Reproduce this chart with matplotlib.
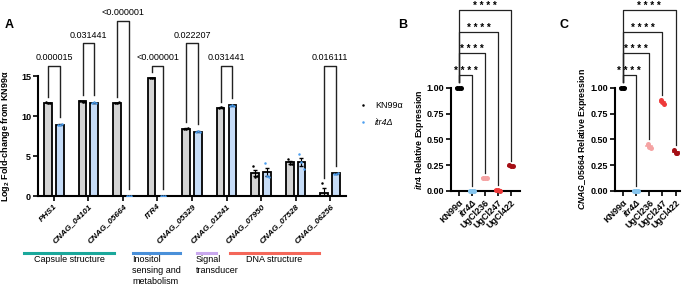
import matplotlib
matplotlib.use('Agg')
import matplotlib.pyplot as plt
import numpy as np

plt.rcParams['font.family'] = ['Liberation Sans', 'DejaVu Sans']
plt.rcParams['mathtext.fontset'] = 'custom'
plt.rcParams['mathtext.rm'] = 'Liberation Sans:bold'
plt.rcParams['mathtext.it'] = 'Liberation Sans:italic:bold'

# ---------------- data: panel A ----------------
genes = ['PHS1', 'CNAG_04101', 'CNAG_05664', 'ITR4', 'CNAG_05329',
         'CNAG_01241', 'CNAG_07950', 'CNAG_07528', 'CNAG_06256']
kn99_reps = [[11.7, 11.6, 11.6], [11.9, 11.8, 11.8], [11.6, 11.6, 11.7],
             [14.7, 14.7, 14.8], [8.4, 8.4, 8.5], [11.0, 11.1, 11.0],
             [3.7, 2.4, 2.5], [4.6, 4.0, 4.0], [1.6, -0.2, -0.2]]
itr4_reps = [[8.9, 8.9, 9.0], [11.6, 11.7, 11.6], [0.0, 0.0, 0.0],
             [0.0, 0.0, 0.0], [8.0, 8.1, 8.0], [11.3, 11.4, 11.3],
             [4.1, 2.5, 2.4], [5.2, 4.2, 3.4], [2.8, 2.8, 2.9]]
p_labels = ['0.000015', '0.031441', '<0.000001', '<0.000001', '0.022207',
            '0.031441', '', '', '0.016111']
p_tops = [16.25, 19.1, 21.9, 16.25, 19.1, 16.25, None, None, 16.25]

func_groups = ['Capsule structure', 'Inositol\nsensing and\nmetabolism',
               'Signal\ntransducer', 'DNA structure']
func_colors = ['#1aa89b', '#4a90d9', '#c9a8ee', '#f4675a']

# ---------------- data: panels B and C ----------------
strains = ['KN99α', 'itr4Δ', 'UgCl236', 'UgCl247', 'UgCl422']
strain_colors = ['#000000', '#86c5ee', '#f5a3a3', '#ee3a3a', '#a50f15']
itr4_expr = [[1.0, 1.0, 1.0], [0.0, 0.0, 0.0], [0.13, 0.125, 0.13],
             [0.01, 0.0, 0.01], [0.25, 0.24, 0.24]]
cnag_expr = [[1.0, 1.0, 1.0], [0.0, 0.0, 0.0], [0.46, 0.42, 0.43],
             [0.88, 0.84, 0.865], [0.40, 0.37, 0.37]]
star_tops = [1.123, 1.333, 1.542, 1.752]

W, H = 685, 285
fig = plt.figure(figsize=(W / 100, H / 100), dpi=100)


def rect(x0, x1, ybot, ytop):
    return [x0 / W, 1 - ybot / H, (x1 - x0) / W, (ybot - ytop) / H]


def style_axes(ax):
    for s in ['top', 'right']:
        ax.spines[s].set_visible(False)
    for s in ['left', 'bottom']:
        ax.spines[s].set_linewidth(1.5)
    ax.tick_params(length=3.5, width=1.2, pad=1.5)


# ---------------- Panel A ----------------
axA = fig.add_axes(rect(38, 346, 196, 8))
style_axes(axA)
x = np.arange(len(genes))
off, bw = 0.17, 0.22
kn_mean = [np.mean(r) for r in kn99_reps]
it_mean = [np.mean(r) for r in itr4_reps]
kn_sem = [np.std(r, ddof=1) / np.sqrt(3) for r in kn99_reps]
it_sem = [np.std(r, ddof=1) / np.sqrt(3) for r in itr4_reps]
axA.bar(x - off, kn_mean, bw, color='#d4d4d4', edgecolor='black', linewidth=1.3, zorder=2)
axA.bar(x + off, it_mean, bw, color='#c6dcf7', edgecolor='black', linewidth=1.3, zorder=2)
axA.errorbar(x - off, kn_mean, yerr=kn_sem, fmt='none', ecolor='black', elinewidth=0.8, capsize=1.5, zorder=3)
axA.errorbar(x + off, it_mean, yerr=it_sem, fmt='none', ecolor='black', elinewidth=0.8, capsize=1.5, zorder=3)
jit = np.array([-0.06, 0.0, 0.06])
for i in range(len(genes)):
    axA.plot(x[i] - off + jit, kn99_reps[i], 'o', color='black', ms=1.8, mew=0, zorder=4)
    axA.plot(x[i] + off + jit, itr4_reps[i], 'o', color='#4d9ff0', ms=1.8, mew=0, zorder=4)
    if p_tops[i] is not None:
        lb = max(kn99_reps[i]) + 0.7
        rb = max(itr4_reps[i]) + 0.9
        axA.plot([x[i] - off, x[i] - off, x[i] + off, x[i] + off],
                 [lb, p_tops[i], p_tops[i], rb], color='#222222', lw=1.0, clip_on=False)
        axA.text(x[i], p_tops[i] + 0.45, p_labels[i], ha='center', va='bottom', fontsize=6.5)
axA.set_xlim(-0.46, 8.46)
axA.set_ylim(0, 23.5)
axA.spines['left'].set_bounds(0, 15)
axA.set_yticks([0, 5, 10, 15])
axA.set_yticklabels(['0', '5', '10', '15'], fontsize=6.5, fontweight='bold')
axA.set_xticks(x)
axA.set_xticklabels(genes, rotation=45, ha='right', rotation_mode='anchor',
                    fontsize=6, fontweight='bold', style='italic')
axA.set_ylabel('Log$_2$ Fold-change from KN99α', fontsize=6.5, fontweight='bold')
axA.yaxis.set_label_coords(-0.085, 7.5 / 23.5)
hk, = axA.plot([], [], 'o', color='black', ms=1.8, mew=0)
hi, = axA.plot([], [], 'o', color='#4d9ff0', ms=1.8, mew=0)
leg = axA.legend([hk, hi], ['KN99α', 'itr4Δ'], loc='upper left', frameon=False,
                 bbox_to_anchor=(350 / W, 1 - 93 / H), bbox_transform=fig.transFigure,
                 fontsize=6.5, handlelength=1.0, handletextpad=0.9, labelspacing=0.9)
leg.get_texts()[1].set_style('italic')

# functional category bars under panel A
seg_px = [(24, 114), (133, 180), (197, 216), (230, 319)]
for (a, b), lab, col in zip(seg_px, func_groups, func_colors):
    fig.add_artist(plt.Line2D([a / W, b / W], [1 - 253 / H, 1 - 253 / H], color=col, lw=2.2))
    if '\n' in lab:
        fig.text((a - 1) / W, 1 - 255 / H, lab, ha='left', va='top', fontsize=6.5, linespacing=1.25)
    else:
        fig.text((a + b) / 2 / W, 1 - 255 / H, lab, ha='center', va='top', fontsize=6.5)


# ---------------- Panels B and C ----------------
def expr_panel(ax, data, ylab, xlim, labx):
    style_axes(ax)
    offs = np.array([-0.13, 0.13, 0.0])
    for i, vals in enumerate(data):
        ax.plot(i + offs, vals, 'o', color=strain_colors[i], ms=3.6, mew=0, zorder=3, clip_on=False)
        m = np.mean(vals)
        ax.plot([i - 0.22, i + 0.22], [m, m], color=strain_colors[i], lw=1.2, zorder=3)
    for i in range(1, 5):
        top = star_tops[i - 1]
        rb = max(data[i]) + 0.045
        ax.plot([0, 0, i, i], [1.06, top, top, rb], color='#222222', lw=0.9, clip_on=False)
        ax.text(i / 2, top + 0.012, '* * * *', ha='center', va='baseline', fontsize=7, fontweight='bold')
    ax.set_xlim(*xlim)
    ax.set_ylim(0, 1.84)
    ax.spines['left'].set_bounds(0, 1)
    ax.set_yticks([0, 0.25, 0.5, 0.75, 1.0])
    ax.set_yticklabels(['0.00', '0.25', '0.50', '0.75', '1.00'], fontsize=6.5, fontweight='bold')
    ax.set_xticks(range(5))
    ax.set_xticklabels(strains, rotation=45, ha='right', rotation_mode='anchor',
                       fontsize=6.5, fontweight='bold')
    ax.get_xticklabels()[1].set_style('italic')
    ax.set_ylabel(ylab, fontsize=6.3, fontweight='bold')
    ax.yaxis.set_label_coords(labx, 0.5 / 1.84)


axB = fig.add_axes(rect(451, 520, 191, 1))
expr_panel(axB, itr4_expr, r'$\mathit{itr4}$ Relative Expression', (-0.62, 4.69), -0.36)
axC = fig.add_axes(rect(615, 680, 191, 1))
expr_panel(axC, cnag_expr, r'$\mathit{CNAG\_05664}$ Relative Expression', (-0.58, 4.32), -0.40)

fig.text(5 / W, 1 - 25 / H, 'A', fontsize=9, fontweight='bold', va='center')
fig.text(398 / W, 1 - 25 / H, 'B', fontsize=9, fontweight='bold', va='center')
fig.text(559 / W, 1 - 25 / H, 'C', fontsize=9, fontweight='bold', va='center')

fig.savefig('out.png', dpi=100)
